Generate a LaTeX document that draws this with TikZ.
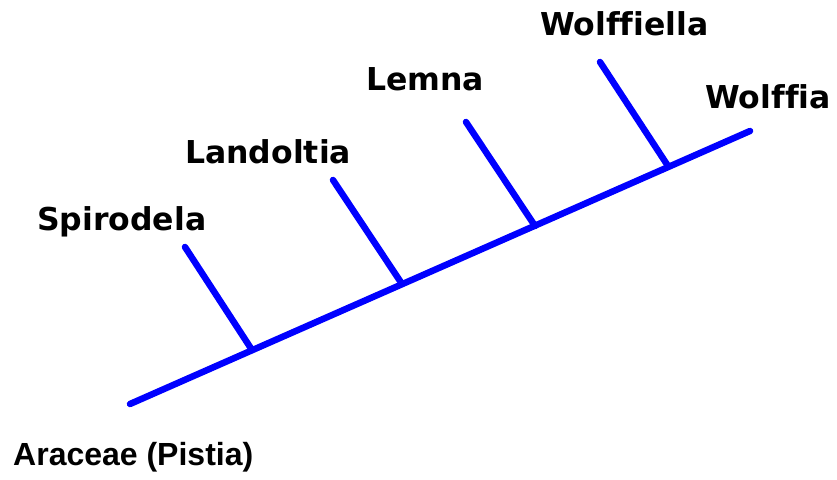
\documentclass[tikz,border=0pt]{standalone}
\usepackage{fontspec}
\setmainfont{DejaVu Sans}[Ligatures=NoCommon]
\newfontfamily\arialfont{Liberation Sans}
\usetikzlibrary{positioning,calc}

\begin{document}
\begin{tikzpicture}[x=1pt,y=-1pt,
 branch/.style={draw=blue,line width=6.5pt,line cap=round},
 taxon/.style={anchor=base west,inner sep=0pt,font=\fontsize{31.5}{36}\selectfont\bfseries},
 outgroup/.style={anchor=base west,inner sep=0pt,font=\fontsize{32}{36}\selectfont\arialfont\bfseries}]
\useasboundingbox (0,0) rectangle (837,479);
% main axis
\coordinate (root) at (130,404);
\coordinate (tipwolffia) at (750,131);
\coordinate (jspi) at (252,350);
\coordinate (jlan) at (402,284);
\coordinate (jlem) at (535,226);
\coordinate (jwfl) at (668,166);
\coordinate (tipspi) at (185,247);
\coordinate (tiplan) at (333,180);
\coordinate (tiplem) at (466,122);
\coordinate (tipwfl) at (600,62);
\draw[branch] (root) -- (tipwolffia);
\draw[branch] (jspi) -- (tipspi);
\draw[branch] (jlan) -- (tiplan);
\draw[branch] (jlem) -- (tiplem);
\draw[branch] (jwfl) -- (tipwfl);
% labels
\node[taxon] (spi) at (37,230) {Spirodela};
\node[taxon] (lan) at (185,163) {Landoltia};
\node[taxon] (lem) at (366,90) {Lemna};
\node[taxon] (wfl) at (540,35) {Wolffiella};
\node[taxon] (wfa) at (705,108) {Wolffia};
\node[outgroup] (ara) at (13,465) {Araceae (Pistia)};
\end{tikzpicture}
\end{document}
